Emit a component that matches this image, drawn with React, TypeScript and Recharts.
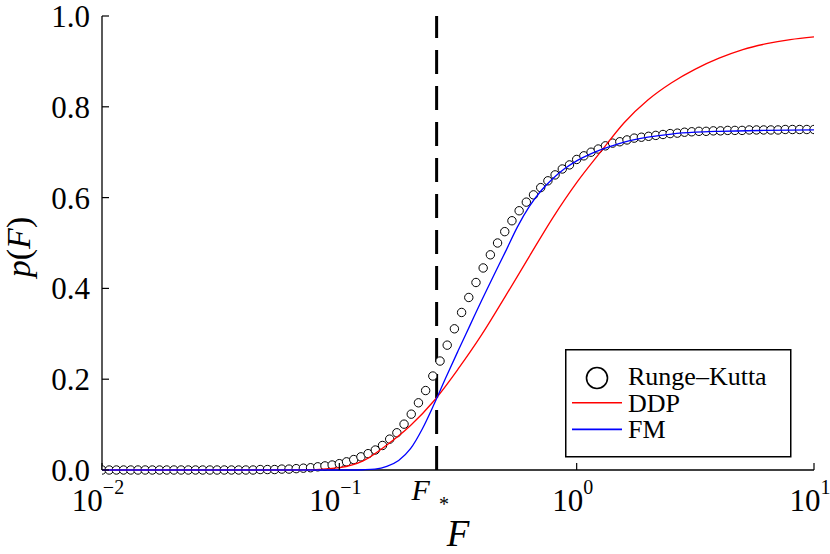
import {
  ComposedChart,
  Line,
  Scatter,
  XAxis,
  YAxis,
  ReferenceLine,
  Legend,
} from "recharts";

// plot box in page pixels
const W = 830;
const H = 554;
const LEFT = 102;
const RIGHT = 814;
const TOP = 16;
const BOTTOM = 470;
const TICK = 7;
const FONT = "'Liberation Serif', 'DejaVu Serif', serif";

const F_STAR = 0.257;
const xTicks = [0.01, 0.1, F_STAR, 1, 10];
const xFrameTicks = [0.01, 0.1, 1, 10];
const xTickExp = ["\u22122", "\u22121", "", "0", "1"];
const yTicks = [0, 0.2, 0.4, 0.6, 0.8, 1];

// Runge-Kutta samples, evenly spaced in log F from 1e-2 to 1e1
const rkP = [
  0, 0, 0, 0, 0, 0, 0, 0, 0, 0, 0, 0, 0, 0, 0, 0, 0, 0, 0, 0, 0, 0,
  0.001, 0.001, 0.001, 0.002, 0.002, 0.003, 0.004, 0.005,
  0.007, 0.009, 0.011, 0.014, 0.018, 0.023, 0.029, 0.036, 0.044, 0.054,
  0.068, 0.082, 0.101, 0.123, 0.148, 0.175, 0.207, 0.24, 0.275, 0.311,
  0.347, 0.38, 0.413, 0.445, 0.474, 0.5, 0.525, 0.549, 0.571, 0.59,
  0.606, 0.622, 0.637, 0.65, 0.663, 0.672, 0.684, 0.692, 0.7, 0.707,
  0.714, 0.72, 0.723, 0.727, 0.731, 0.733, 0.735, 0.737, 0.739, 0.741,
  0.742, 0.744, 0.745, 0.746, 0.746, 0.747, 0.747, 0.748, 0.748, 0.748,
  0.749, 0.749, 0.749, 0.749, 0.749, 0.75, 0.75, 0.75, 0.75, 0.75,
];
const rkF = rkP.map((_, i) => Math.pow(10, -2 + (3 * i) / (rkP.length - 1)));

const ddpF = [
  0.01, 0.0631, 0.0794, 0.1, 0.1259, 0.1585, 0.1995, 0.2512, 0.3162, 0.3981,
  0.5012, 0.631, 0.7943, 1, 1.259, 1.585, 1.995, 2.512, 3.162, 3.981, 5.012,
  6.31, 7.943, 10,
];
const ddpP = [
  0, 0, 0.001, 0.005, 0.02, 0.055, 0.098, 0.153, 0.222, 0.298, 0.383, 0.47,
  0.556, 0.633, 0.7, 0.765, 0.815, 0.853, 0.883, 0.907, 0.926, 0.939, 0.948,
  0.954,
];

const fmF = [
  0.01, 0.1122, 0.1259, 0.1413, 0.1585, 0.1778, 0.1995, 0.2239, 0.2512,
  0.2818, 0.3162, 0.3548, 0.3981, 0.4467, 0.5012, 0.5623, 0.631, 0.7079,
  0.7943, 0.8913, 1, 1.122, 1.259, 1.413, 1.585, 1.995, 2.512, 3.162, 3.981,
  6.31, 10,
];
const fmP = [
  0, 0, 0.0005, 0.002, 0.008, 0.021, 0.047, 0.091, 0.146, 0.205, 0.262, 0.318,
  0.374, 0.428, 0.481, 0.535, 0.58, 0.615, 0.642, 0.664, 0.681, 0.694, 0.705,
  0.714, 0.722, 0.733, 0.74, 0.744, 0.746, 0.748, 0.749,
];

const rkData = rkP.map((p, i) => ({ F: rkF[i], p }));
const ddpData = ddpP.map((p, i) => ({ F: ddpF[i], p }));
const fmData = fmP.map((p, i) => ({ F: fmF[i], p }));

function BottomTick(props: any) {
  const { x, payload } = props;
  const v = payload.value;
  if (v === F_STAR) {
    return (
      <text x={x - 25} y={500} fontFamily={FONT} fontSize={30} fill="#000">
        <tspan fontStyle="italic">F</tspan>
        <tspan dx={9} dy={11} fontSize={20}>*</tspan>
      </text>
    );
  }
  const idx = xTicks.indexOf(v);
  return (
    <g>
      <line x1={x} x2={x} y1={BOTTOM} y2={BOTTOM - TICK} stroke="#000" strokeWidth={1.2} />
      <text x={x - 4} y={511} textAnchor="middle" fontFamily={FONT} fontSize={31} fill="#000">
        10
        <tspan dy={-17} fontSize={20}>{xTickExp[idx]}</tspan>
      </text>
    </g>
  );
}

function TopTick(props: any) {
  const { x } = props;
  return <line x1={x} x2={x} y1={TOP} y2={TOP + TICK} stroke="#000" strokeWidth={1.2} />;
}

function LeftTick(props: any) {
  const { y, payload } = props;
  return (
    <g>
      <line x1={LEFT} x2={LEFT + TICK} y1={y} y2={y} stroke="#000" strokeWidth={1.2} />
      <text x={90} y={y + 11} textAnchor="end" fontFamily={FONT} fontSize={31} fill="#000">
        {payload.value.toFixed(1)}
      </text>
    </g>
  );
}

function RightTick(props: any) {
  const { y } = props;
  return <line x1={RIGHT} x2={RIGHT - TICK} y1={y} y2={y} stroke="#000" strokeWidth={1.2} />;
}

function RkDot(props: any) {
  const { cx, cy } = props;
  return <circle cx={cx} cy={cy} r={4.2} fill="#fff" stroke="#000" strokeWidth={1} />;
}

function LegendBox(props: any) {
  const raw = props.payload || [];
  // markers first, then the lines in series order
  const items = [
    ...raw.filter((it: any) => it.type === "circle"),
    ...raw.filter((it: any) => it.type !== "circle"),
  ];
  return (
    <svg width={228} height={110} style={{ display: "block" }}>
      <rect x={0.75} y={0.75} width={225} height={107} fill="#fff" stroke="#000" strokeWidth={1.5} />
      {items.map((it: any, i: number) => {
        const base = 36 + i * 26.7;
        return (
          <g key={it.value}>
            {it.type === "circle" ? (
              <circle cx={32} cy={base - 7} r={10.5} fill="none" stroke="#000" strokeWidth={1.6} />
            ) : (
              <line x1={7} x2={57} y1={base - 9} y2={base - 9} stroke={it.color} strokeWidth={1.6} />
            )}
            <text x={63} y={base} fontFamily={FONT} fontSize={26} fill="#000">
              {it.value}
            </text>
          </g>
        );
      })}
    </svg>
  );
}

export default function App() {
  return (
    <div style={{ position: "absolute", left: 0, top: 0, width: W, height: H, background: "#fff" }}>
      <ComposedChart
        width={W}
        height={H}
        margin={{ top: TOP, right: W - RIGHT, bottom: 0, left: 0 }}
      >
        <XAxis
          xAxisId="b"
          dataKey="F"
          type="number"
          scale="log"
          domain={[0.01, 10]}
          allowDataOverflow
          ticks={xTicks}
          interval={0}
          height={H - BOTTOM}
          tickLine={false}
          axisLine={{ stroke: "#000", strokeWidth: 1.3 }}
          tick={<BottomTick />}
          label={{
            content: () => (
              <text x={(LEFT + RIGHT) / 2} y={546} textAnchor="middle" fontFamily={FONT} fontSize={37} fontStyle="italic" fill="#000">
                F
              </text>
            ),
          }}
        />
        <XAxis
          xAxisId="t"
          orientation="top"
          dataKey="F"
          type="number"
          scale="log"
          domain={[0.01, 10]}
          allowDataOverflow
          ticks={xFrameTicks}
          interval={0}
          height={0}
          tickLine={false}
          axisLine={{ stroke: "#000", strokeWidth: 1.3 }}
          tick={<TopTick />}
        />
        <YAxis
          yAxisId="l"
          type="number"
          domain={[0, 1]}
          ticks={yTicks}
          interval={0}
          width={LEFT}
          tickLine={false}
          axisLine={{ stroke: "#000", strokeWidth: 1.3 }}
          tick={<LeftTick />}
          label={{
            content: () => (
              <text
                x={30}
                y={247}
                transform="rotate(-90, 30, 247)"
                textAnchor="middle"
                fontFamily={FONT}
                fontSize={34}
                fill="#000"
              >
                <tspan fontStyle="italic">p</tspan>(<tspan fontStyle="italic">F</tspan>)
              </text>
            ),
          }}
        />
        <YAxis
          yAxisId="r"
          orientation="right"
          type="number"
          domain={[0, 1]}
          ticks={yTicks}
          interval={0}
          width={0}
          tickLine={false}
          axisLine={{ stroke: "#000", strokeWidth: 1.3 }}
          tick={<RightTick />}
        />
        <ReferenceLine
          xAxisId="b"
          yAxisId="l"
          x={F_STAR}
          stroke="#000"
          strokeWidth={3}
          strokeDasharray="24 12"
        />
        <Scatter
          xAxisId="b"
          yAxisId="l"
          name="Runge–Kutta"
          data={rkData}
          dataKey="p"
          legendType="circle"
          fill="#000"
          shape={<RkDot />}
          isAnimationActive={false}
        />
        <Line
          xAxisId="b"
          yAxisId="l"
          name="DDP"
          data={ddpData}
          dataKey="p"
          type="monotone"
          stroke="#ff0000"
          strokeWidth={1.3}
          dot={false}
          legendType="line"
          zIndex={700}
          isAnimationActive={false}
        />
        <Line
          xAxisId="b"
          yAxisId="l"
          name="FM"
          data={fmData}
          dataKey="p"
          type="monotone"
          stroke="#0000ff"
          strokeWidth={1.3}
          dot={false}
          legendType="line"
          zIndex={700}
          isAnimationActive={false}
        />
        <Legend
          layout="horizontal"
          align="center"
          verticalAlign="middle"
          content={<LegendBox />}
          wrapperStyle={{ position: "absolute", left: 565, top: 349, width: 228, height: 110 }}
        />
      </ComposedChart>
    </div>
  );
}
